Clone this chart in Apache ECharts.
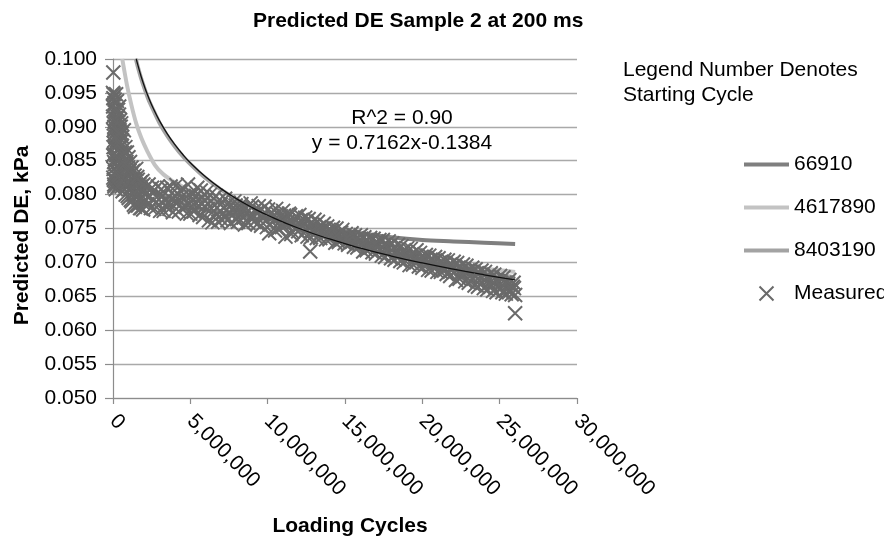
<!DOCTYPE html>
<html>
<head>
<meta charset="utf-8">
<script src="https://cdn.jsdelivr.net/npm/echarts@6/dist/echarts.min.js"></script>
<style>
  html, body { margin: 0; padding: 0; background: #ffffff; }
  #chart { width: 884px; height: 537px; }
</style>
</head>
<body>
<div id="chart"></div>
<script>
// Axis ticks: loading cycles (millions) and predicted DE (kPa)
const xTicksM = [0, 5, 10, 15, 20, 25, 30];
const yTicks = [0.050, 0.055, 0.060, 0.065, 0.070, 0.075, 0.080, 0.085, 0.090, 0.095, 0.100];

const seriesNames = ['66910', '4617890', '8403190', 'Measured'];

// Predicted curves, [cycles in millions, DE]
const pred66910 = [
  [0.067, 0.0925], [0.2, 0.0890], [0.5, 0.0860], [1, 0.0835], [2, 0.0812], [3, 0.0800],
  [4, 0.0790], [5, 0.0783], [6, 0.0777], [8, 0.0770], [10, 0.0764], [12, 0.0756],
  [14, 0.0749], [16, 0.0743], [18, 0.0737], [20, 0.0733], [22, 0.0731], [24, 0.0729], [26, 0.0727]
];
const pred4617890 = [
  [0.6, 0.1000], [0.9, 0.0962], [1.19, 0.0932], [1.5, 0.0905], [1.84, 0.0883], [2.2, 0.0865],
  [2.7, 0.0844], [3.2, 0.0831], [3.78, 0.0821], [4.1, 0.0817], [5, 0.0805], [6, 0.0795],
  [8, 0.0777], [10, 0.0762], [12, 0.0749], [14, 0.0737], [16, 0.0727], [18, 0.0718],
  [20, 0.0708], [22, 0.0698], [24, 0.0691], [26, 0.0686]
];
const pred8403190 = [
  [1.48, 0.1000], [1.6, 0.0989], [1.8, 0.0973], [2.0, 0.0959], [2.3, 0.0940], [2.6, 0.0925],
  [3.0, 0.0906], [3.5, 0.0887], [4.0, 0.0871], [4.5, 0.0857], [5, 0.0845], [6, 0.0824],
  [7, 0.0807], [8, 0.0793], [10, 0.0770], [12, 0.0750], [14, 0.0735], [16, 0.0723],
  [18, 0.0711], [20, 0.0702], [22, 0.0693], [24, 0.0685], [26, 0.0678]
];

// Measured DE, [cycles in millions, DE]
const measured = [
  [0.00, 0.0950], [0.02, 0.0980], [0.02, 0.0825], [0.03, 0.0870], [0.05, 0.0905], [0.08, 0.0815],
  [0.10, 0.0935], [0.12, 0.0890], [0.15, 0.0845], [0.18, 0.0808], [0.20, 0.0948], [0.25, 0.0880],
  [0.30, 0.0915], [0.35, 0.0820], [0.40, 0.0930], [0.45, 0.0862], [0.50, 0.0900], [0.55, 0.0812],
  [0.60, 0.0885], [0.65, 0.0840], [0.70, 0.0895], [0.75, 0.0808], [0.80, 0.0870], [0.85, 0.0832],
  [0.90, 0.0862], [0.95, 0.0798], [1.00, 0.0855], [1.05, 0.0820], [1.10, 0.0848], [1.15, 0.0792],
  [1.20, 0.0840], [1.25, 0.0812], [1.30, 0.0835], [1.35, 0.0785], [1.40, 0.0828], [1.45, 0.0805],
  [1.50, 0.0838], [1.55, 0.0790], [1.60, 0.0822], [1.65, 0.0798], [1.70, 0.0815], [1.75, 0.0780],
  [1.80, 0.0812], [1.85, 0.0795], [1.90, 0.0820], [1.95, 0.0778], [2.00, 0.0808],
  [0.005, 0.0915], [0.015, 0.0858], [0.025, 0.0942], [0.035, 0.0838], [0.045, 0.0895], [0.055, 0.0822],
  [0.065, 0.0925], [0.075, 0.0848], [0.085, 0.0900], [0.095, 0.0812], [0.105, 0.0875], [0.115, 0.0940],
  [0.125, 0.0852], [0.135, 0.0820], [0.145, 0.0922], [0.16, 0.0885], [0.19, 0.0925], [0.21, 0.0858],
  [0.23, 0.0912], [0.24, 0.0818], [0.26, 0.0938], [0.28, 0.0842], [0.29, 0.0895], [0.31, 0.0812],
  [0.33, 0.0925], [0.34, 0.0868], [0.36, 0.0902], [0.38, 0.0830], [0.39, 0.0918], [0.41, 0.0852],
  [0.43, 0.0895], [0.44, 0.0815], [0.46, 0.0910], [0.48, 0.0835], [0.49, 0.0888], [0.51, 0.0860],
  [0.53, 0.0905], [0.54, 0.0825], [0.56, 0.0890], [0.58, 0.0818], [0.59, 0.0880],
  [0.01, 0.0930], [0.04, 0.0948], [0.07, 0.0860], [0.09, 0.0880], [0.11, 0.0830], [0.13, 0.0912],
  [0.17, 0.0870], [0.22, 0.0835], [0.27, 0.0905], [0.32, 0.0850], [0.37, 0.0890], [0.42, 0.0828],
  [0.47, 0.0878], [0.52, 0.0845], [0.57, 0.0872], [0.62, 0.0805], [0.67, 0.0858], [0.72, 0.0825],
  [0.77, 0.0862], [0.82, 0.0800], [0.87, 0.0848], [0.92, 0.0818], [0.97, 0.0840], [1.02, 0.0795],
  [1.07, 0.0835], [1.12, 0.0808], [1.17, 0.0830], [1.22, 0.0790], [1.27, 0.0822], [1.32, 0.0800],
  [1.37, 0.0818], [1.42, 0.0782], [1.47, 0.0815], [1.52, 0.0800], [1.57, 0.0826], [1.62, 0.0784],
  [1.67, 0.0808], [1.72, 0.0792], [1.77, 0.0818], [1.82, 0.0780], [1.87, 0.0806], [1.92, 0.0788],
  [1.97, 0.0815],
  [2.15, 0.0792], [2.30, 0.0815], [2.45, 0.0780], [2.60, 0.0805], [2.75, 0.0788], [2.90, 0.0812],
  [3.05, 0.0776], [3.20, 0.0798], [3.35, 0.0784], [3.50, 0.0810], [3.65, 0.0779], [3.80, 0.0802],
  [3.95, 0.0790], [4.10, 0.0814], [4.25, 0.0775], [4.40, 0.0796], [4.55, 0.0808], [4.70, 0.0782],
  [4.85, 0.0815], [5.00, 0.0772], [5.15, 0.0800], [5.30, 0.0788], [5.45, 0.0810], [5.60, 0.0770],
  [5.75, 0.0795], [5.90, 0.0782], [6.05, 0.0804], [6.20, 0.0762], [6.35, 0.0790], [6.50, 0.0776],
  [6.65, 0.0798], [6.80, 0.0760], [6.95, 0.0785], [7.10, 0.0772], [7.25, 0.0794], [7.40, 0.0762],
  [7.55, 0.0782], [7.70, 0.0770], [7.85, 0.0790], [8.00, 0.0764], [8.15, 0.0778], [8.30, 0.0786],
  [8.45, 0.0766], [8.60, 0.0780], [8.75, 0.0758], [8.90, 0.0787], [9.05, 0.0770], [9.20, 0.0778],
  [9.35, 0.0757], [9.50, 0.0776], [9.65, 0.0766], [9.80, 0.0782], [9.95, 0.0752], [10.10, 0.0743],
  [10.25, 0.0774], [10.40, 0.0762], [10.55, 0.0779], [10.70, 0.0750], [10.85, 0.0768], [11.00, 0.0776],
  [11.15, 0.0738], [11.30, 0.0760], [11.45, 0.0770], [11.60, 0.0745], [11.75, 0.0764], [11.90, 0.0752],
  [12.05, 0.0770], [12.20, 0.0740], [12.35, 0.0758], [12.50, 0.0748], [12.65, 0.0764], [12.75, 0.0716],
  [12.80, 0.0737], [12.95, 0.0755], [13.10, 0.0744], [13.25, 0.0760], [13.40, 0.0736], [13.55, 0.0750],
  [13.70, 0.0742], [13.85, 0.0753], [14.00, 0.0734], [14.15, 0.0746], [14.30, 0.0740], [14.45, 0.0750],
  [14.60, 0.0730], [14.75, 0.0744], [14.90, 0.0736], [15.05, 0.0742], [15.20, 0.0726], [15.35, 0.0738],
  [15.50, 0.0731], [15.65, 0.0740], [15.80, 0.0722], [15.95, 0.0734], [16.10, 0.0727], [16.25, 0.0737],
  [16.40, 0.0718], [16.55, 0.0730], [16.70, 0.0722], [16.85, 0.0735], [17.00, 0.0713], [17.15, 0.0728],
  [17.30, 0.0720], [17.45, 0.0733], [17.60, 0.0708], [17.75, 0.0724], [17.90, 0.0715], [18.05, 0.0728],
  [18.20, 0.0704], [18.35, 0.0718], [18.50, 0.0710], [18.65, 0.0724], [18.80, 0.0700], [18.95, 0.0714],
  [19.10, 0.0706], [19.25, 0.0720], [19.40, 0.0697], [19.55, 0.0710], [19.70, 0.0702], [19.85, 0.0714],
  [20.00, 0.0692], [20.15, 0.0706], [20.30, 0.0698], [20.45, 0.0710], [20.60, 0.0688], [20.75, 0.0702],
  [20.90, 0.0694], [21.05, 0.0706], [21.20, 0.0686], [21.35, 0.0698], [21.50, 0.0690], [21.65, 0.0703],
  [21.80, 0.0680], [21.95, 0.0694], [22.10, 0.0686], [22.25, 0.0699], [22.40, 0.0676], [22.55, 0.0690],
  [22.70, 0.0682], [22.85, 0.0695], [23.00, 0.0670], [23.15, 0.0686], [23.30, 0.0676], [23.45, 0.0690],
  [23.60, 0.0664], [23.75, 0.0680], [23.90, 0.0670], [24.05, 0.0686], [24.20, 0.0660], [24.35, 0.0676],
  [24.50, 0.0666], [24.65, 0.0682], [24.80, 0.0656], [24.95, 0.0672], [25.10, 0.0662], [25.25, 0.0678],
  [25.40, 0.0654], [25.55, 0.0668], [25.70, 0.0658], [25.85, 0.0664], [25.90, 0.0670], [26.00, 0.0652],
  [26.00, 0.0625],
  [2.075, 0.0800], [2.225, 0.0786], [2.375, 0.0798], [2.525, 0.0810], [2.675, 0.0779], [2.825, 0.0796],
  [2.975, 0.0785], [3.125, 0.0808], [3.275, 0.0776], [3.425, 0.0792], [3.575, 0.0786], [3.725, 0.0812],
  [3.875, 0.0774], [4.025, 0.0798], [4.175, 0.0788], [4.325, 0.0806], [4.475, 0.0780], [4.625, 0.0794],
  [4.775, 0.0772], [4.925, 0.0800], [5.075, 0.0789], [5.225, 0.0775], [5.375, 0.0798], [5.525, 0.0784],
  [5.675, 0.0806], [5.825, 0.0767], [5.975, 0.0791], [6.125, 0.0779], [6.275, 0.0800], [6.425, 0.0759],
  [6.575, 0.0784], [6.725, 0.0771], [6.875, 0.0792], [7.025, 0.0763], [7.175, 0.0780], [7.325, 0.0768],
  [7.475, 0.0788], [7.625, 0.0758], [7.775, 0.0776], [7.925, 0.0784], [8.075, 0.0760], [8.225, 0.0772],
  [8.375, 0.0779], [8.525, 0.0756], [8.675, 0.0774], [8.825, 0.0767], [8.975, 0.0782], [9.125, 0.0760],
  [9.275, 0.0773], [9.425, 0.0783], [9.575, 0.0754], [9.725, 0.0771], [9.875, 0.0762], [10.025, 0.0778],
  [10.175, 0.0756], [10.325, 0.0768], [10.475, 0.0747], [10.625, 0.0772], [10.775, 0.0760], [10.925, 0.0752],
  [11.075, 0.0769], [11.225, 0.0756], [11.375, 0.0772], [11.525, 0.0742], [11.675, 0.0758], [11.825, 0.0768],
  [11.975, 0.0746], [12.125, 0.0762], [12.275, 0.0753], [12.425, 0.0766], [12.575, 0.0738], [12.725, 0.0756],
  [12.875, 0.0747], [13.025, 0.0763], [13.175, 0.0736], [13.325, 0.0752], [13.475, 0.0745], [13.625, 0.0757],
  [13.775, 0.0734], [13.925, 0.0748], [14.075, 0.0740], [14.225, 0.0751], [14.375, 0.0729], [14.525, 0.0742],
  [14.675, 0.0736], [14.825, 0.0748], [14.975, 0.0728], [15.125, 0.0738], [15.275, 0.0733], [15.425, 0.0743],
  [15.575, 0.0723], [15.725, 0.0735], [15.875, 0.0729], [16.025, 0.0740], [16.175, 0.0716], [16.325, 0.0732],
  [16.475, 0.0724], [16.625, 0.0736], [16.775, 0.0715], [16.925, 0.0729], [17.075, 0.0722], [17.225, 0.0733],
  [17.375, 0.0710], [17.525, 0.0726], [17.675, 0.0717], [17.825, 0.0731], [17.975, 0.0706], [18.125, 0.0721],
  [18.275, 0.0712], [18.425, 0.0726], [18.575, 0.0702], [18.725, 0.0716], [18.875, 0.0708], [19.025, 0.0721],
  [19.175, 0.0696], [19.325, 0.0712], [19.475, 0.0704], [19.625, 0.0718], [19.775, 0.0694], [19.925, 0.0708],
  [20.075, 0.0700], [20.225, 0.0711], [20.375, 0.0689], [20.525, 0.0704], [20.675, 0.0696], [20.825, 0.0708],
  [20.975, 0.0686], [21.125, 0.0700], [21.275, 0.0692], [21.425, 0.0704], [21.575, 0.0683], [21.725, 0.0696],
  [21.875, 0.0688], [22.025, 0.0701], [22.175, 0.0674], [22.325, 0.0692], [22.475, 0.0684], [22.625, 0.0697],
  [22.775, 0.0672], [22.925, 0.0688], [23.075, 0.0680], [23.225, 0.0692], [23.375, 0.0666], [23.525, 0.0684],
  [23.675, 0.0673], [23.825, 0.0688], [23.975, 0.0662], [24.125, 0.0678], [24.275, 0.0668], [24.425, 0.0684],
  [24.575, 0.0658], [24.725, 0.0674], [24.875, 0.0664], [25.025, 0.0680], [25.175, 0.0656], [25.325, 0.0670],
  [25.475, 0.0660], [25.625, 0.0674], [25.775, 0.0653], [25.925, 0.0662]
];

// Power trend fitted to the measured data: y = a * x^b (x in cycles)
const trendCoef = 0.7162;
const trendExp = -0.1384;
const trendR2 = 0.90;
const trendXM = [1.5, 1.6, 1.8, 2, 2.3, 2.6, 3, 3.5, 4, 4.5, 5, 6, 7, 8, 9, 10, 12, 14, 16, 18, 20, 22, 24, 26];
const trendLine = trendXM.map(x => [x, trendCoef * Math.pow(x * 1e6, trendExp)]);

const FONT = '"Liberation Sans", Arial, Helvetica, sans-serif';
const X_MARK = 'path://M0,0L10,10M10,0L0,10';
const lineColors = { '66910': '#7f7f7f', '4617890': '#c3c3c3', '8403190': '#a3a3a3' };

const chart = echarts.init(document.getElementById('chart'), null, { renderer: 'canvas' });

const fmtCycles = v => Math.round(v * 1e6).toLocaleString('en-US');

// line entries show only the stroke; the point marker is hidden
const legendData = seriesNames.map(n => n === 'Measured'
  ? { name: n }
  : { name: n, itemStyle: { opacity: 0 }, lineStyle: { width: 4, color: lineColors[n] } });

chart.setOption({
  backgroundColor: '#ffffff',
  animation: false,
  title: [
    {
      text: 'Predicted DE Sample 2 at 200 ms',
      left: 253, top: 11, padding: 0,
      textStyle: { fontFamily: FONT, fontSize: 21, fontWeight: 'bold', color: '#000' }
    },
    {
      text: 'Legend Number Denotes\nStarting Cycle',
      left: 623, top: 58, padding: 0,
      textStyle: { fontFamily: FONT, fontSize: 21, fontWeight: 'normal', color: '#000', lineHeight: 25 }
    }
  ],
  legend: {
    data: legendData,
    orient: 'vertical',
    left: 737, top: 149,
    itemWidth: 45, itemHeight: 14, itemGap: 22,
    textStyle: { fontFamily: FONT, fontSize: 21, color: '#000' },
    selectedMode: false
  },
  grid: { left: 113, top: 59, width: 464, height: 339, containLabel: false, outerBoundsMode: 'none' },
  xAxis: {
    type: 'value',
    min: xTicksM[0], max: xTicksM[xTicksM.length - 1], interval: 5,
    name: 'Loading Cycles',
    nameLocation: 'middle', nameGap: 118,
    nameTextStyle: { fontFamily: FONT, fontSize: 21, fontWeight: 'bold', color: '#000', padding: [0, 0, 0, 10] },
    axisLine: { show: true, lineStyle: { color: '#8c8c8c', width: 1.2 } },
    axisTick: { show: true, length: 6, lineStyle: { color: '#8c8c8c', width: 1.2 } },
    axisLabel: { rotate: -45, margin: 20, fontFamily: FONT, fontSize: 21, color: '#000', formatter: fmtCycles },
    splitLine: { show: false }
  },
  yAxis: {
    type: 'value',
    min: 0.05, max: 0.1, interval: 0.005,
    name: 'Predicted DE, kPa',
    nameLocation: 'middle', nameGap: 80,
    nameTextStyle: { fontFamily: FONT, fontSize: 21, fontWeight: 'bold', color: '#000', padding: [0, 14, 0, 0] },
    axisLine: { show: true, lineStyle: { color: '#8c8c8c', width: 1.2 } },
    axisTick: { show: true, length: 8, lineStyle: { color: '#8c8c8c', width: 1.2 } },
    axisLabel: { margin: 16, fontFamily: FONT, fontSize: 21, color: '#000', formatter: v => v.toFixed(3) },
    splitLine: { show: true, lineStyle: { color: '#a9a9a9', width: 1.3 } }
  },
  series: [
    {
      name: '66910', type: 'line', data: pred66910, symbol: 'none', smooth: 0.3, clip: true, z: 2,
      lineStyle: { color: lineColors['66910'], width: 4 }, itemStyle: { color: lineColors['66910'] }
    },
    {
      name: '4617890', type: 'line', data: pred4617890, symbol: 'none', smooth: 0.3, clip: true, z: 2,
      lineStyle: { color: lineColors['4617890'], width: 4 }, itemStyle: { color: lineColors['4617890'] }
    },
    {
      name: '8403190', type: 'line', data: pred8403190, symbol: 'none', smooth: 0.2, clip: true, z: 2,
      lineStyle: { color: lineColors['8403190'], width: 4 }, itemStyle: { color: lineColors['8403190'] }
    },
    {
      name: 'Measured', type: 'scatter', data: measured, clip: false, z: 3,
      symbol: X_MARK, symbolSize: 14, symbolKeepAspect: true,
      itemStyle: { color: 'none', borderColor: '#6a6a6a', borderWidth: 2, opacity: 1 }
    },
    {
      name: 'Power trend', type: 'line', data: trendLine, symbol: 'none', smooth: true, clip: true, z: 4,
      lineStyle: { color: '#111111', width: 1.3 }, itemStyle: { color: '#111111' }
    }
  ],
  graphic: [
    {
      type: 'group', z: 10,
      children: [
        { type: 'rect', shape: { x: 309, y: 100, width: 181, height: 68 }, style: { fill: '#ffffff' } },
        {
          type: 'text', x: 402, y: 118,
          style: { text: 'R^2 = ' + trendR2.toFixed(2), font: '21px ' + FONT, fill: '#000', align: 'center', verticalAlign: 'middle' }
        },
        {
          type: 'text', x: 402, y: 143,
          style: { text: 'y = ' + trendCoef + 'x' + trendExp, font: '21px ' + FONT, fill: '#000', align: 'center', verticalAlign: 'middle' }
        }
      ]
    }
  ]
});
</script>
</body>
</html>
